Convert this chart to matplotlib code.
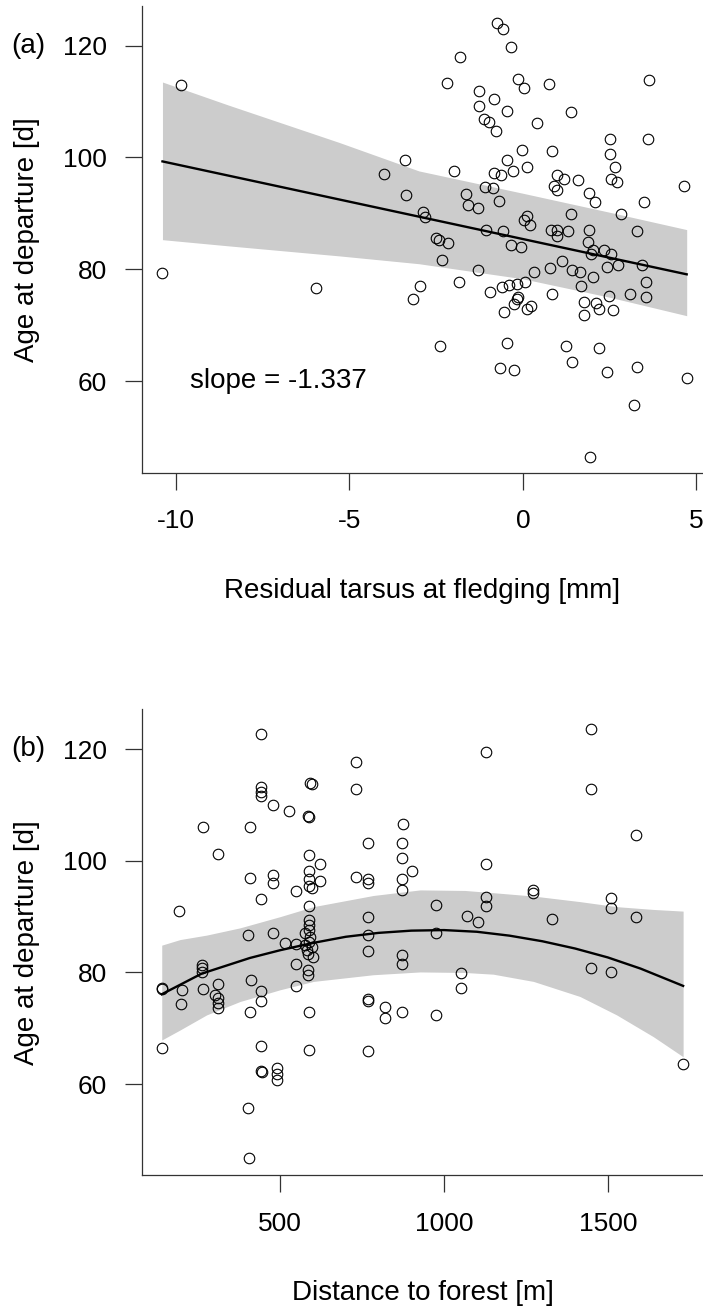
import numpy as np
import matplotlib
matplotlib.use("Agg")
import matplotlib.pyplot as plt

plt.rcParams['font.family'] = ['Liberation Sans', 'DejaVu Sans']
plt.rcParams['axes.unicode_minus'] = False

# panel (a): residual tarsus vs age at departure
tarsus = [-0.75, -0.57, -0.34, -1.80, -2.18, -0.14, 0.03, 0.76, 3.64, -1.28,
          -0.84, -1.28, -0.45, 1.38, -1.12, -0.97, 0.41, -0.77, 2.50, 3.60,
          -0.04, 0.83, 2.50, -3.41, -0.47, 2.65, 0.12, -0.28, -1.99, -0.83,
          -0.64, 0.99, 1.19, 1.59, 2.53, 2.71, 4.63, 0.89, 0.99, -1.09,
          -0.86, -3.37, -1.63, 1.90, 2.07, 3.50, -0.68, -1.58, -1.29, -2.89,
          -2.82, 1.39, 2.83, 0.11, 0.03, 0.20, -1.07, -0.58, 0.80, 0.99,
          1.31, 1.90, 3.29, 0.99, -2.52, -2.42, -2.17, 1.87, -0.34, -0.05,
          2.01, 2.33, 2.53, 1.95, -2.33, 1.14, 2.75, 3.44, 2.42, -1.29,
          0.78, 0.32, 1.42, 1.64, 2.01, 3.54, -1.85, -2.97, 1.66, -0.94,
          -0.60, -0.39, -0.18, 0.06, 3.08, 3.54, 0.83, 2.49, -3.16, -0.14,
          -0.16, -0.25, -0.55, 0.12, 0.23, 1.77, 1.77, 2.12, 2.20, 2.60,
          -2.39, -0.45, -0.66, -0.25, 1.23, 1.42, 2.19, 2.43, 3.29, 4.72,
          3.21, 1.93, -9.86, -4.00, -10.39, -5.97]
age_a = [124.1, 122.9, 119.8, 117.9, 113.4, 114.0, 112.5, 113.1, 113.9, 111.9,
         110.4, 109.2, 108.3, 108.1, 106.9, 106.3, 106.2, 104.7, 103.3, 103.3,
         101.4, 101.2, 100.6, 99.5, 99.5, 98.3, 98.3, 97.6, 97.5, 97.3,
         96.9, 96.9, 96.1, 96.0, 96.1, 95.6, 94.9, 94.9, 94.1, 94.7,
         94.5, 93.3, 93.4, 93.6, 92.1, 92.1, 92.3, 91.5, 90.9, 90.3,
         89.4, 89.9, 89.9, 89.6, 88.9, 88.0, 87.1, 86.8, 87.1, 87.1,
         86.9, 87.1, 86.8, 85.9, 85.6, 85.2, 84.7, 84.8, 84.3, 84.0,
         83.5, 83.5, 82.8, 82.8, 81.6, 81.4, 80.8, 80.8, 80.5, 79.9,
         80.2, 79.5, 79.8, 79.6, 78.7, 77.8, 77.7, 77.1, 77.1, 76.0,
         76.8, 77.2, 77.4, 77.7, 75.6, 75.1, 75.5, 75.3, 74.6, 75.0,
         74.7, 73.8, 72.3, 72.9, 73.5, 74.2, 71.9, 74.0, 72.9, 72.8,
         66.3, 66.8, 62.3, 62.0, 66.2, 63.5, 65.9, 61.6, 62.6, 60.5,
         55.7, 46.5, 113.0, 97.1, 79.3, 76.6]

fit_a_x = [-10.39, 4.72]
fit_a_y = [99.3, 79.1]
band_a_x = [-10.39, -8.5, -5.3, -3.0, 0.0, 2.5, 4.72]
band_a_hi = [113.5, 109.4, 102.7, 97.6, 93.6, 90.2, 87.1]
band_a_lo = [85.3, 84.2, 82.4, 81.0, 78.3, 75.0, 71.7]

# panel (b): distance to forest vs age at departure
dist = [441, 730, 730, 441, 441, 441, 590, 597, 479, 526,
        586, 588, 265, 408, 876, 310, 769, 873, 873, 589,
        621, 902, 408, 479, 479, 588, 588, 621, 730, 769,
        769, 873, 873, 548, 588, 598, 441, 191, 588, 769,
        1449, 1128, 1449, 1587, 1128, 1128, 1128, 1271, 1271, 975,
        1509, 1509, 1069, 1105, 1330, 1587,
        769, 769, 400, 479, 514, 548,
        588, 588, 588, 575, 591, 588, 575, 596, 580, 585, 601,
        548, 584, 586, 260, 260, 260, 138, 140, 199, 265,
        311, 301, 311, 311, 311, 197, 410, 441, 441, 547,
        408, 589, 769, 769, 873, 873, 820, 820, 873, 138,
        441, 589, 769, 441, 443, 490, 490, 490, 400, 404,
        975, 1052, 1052, 975, 1449, 1509, 1730]
age_b = [122.7, 117.7, 112.9, 113.2, 112.4, 111.6, 113.9, 113.7, 110.1, 109.0,
         108.0, 107.9, 106.0, 106.1, 106.6, 101.3, 103.2, 103.2, 100.5, 101.1,
         99.4, 98.2, 96.9, 97.4, 96.0, 98.1, 96.8, 96.4, 97.1, 96.7,
         96.0, 96.7, 94.7, 94.6, 95.5, 95.1, 93.2, 91.0, 91.9, 89.9,
         123.6, 119.5, 112.9, 104.6, 99.4, 93.5, 91.9, 94.7, 94.2, 92.1,
         93.3, 91.5, 90.1, 89.1, 89.5, 89.9,
         86.8, 83.9, 86.7, 87.0, 85.2, 85.1,
         89.4, 88.5, 87.6, 87.0, 86.4, 85.5, 84.9, 84.6, 84.0, 83.4, 82.8,
         81.6, 80.4, 79.6, 81.3, 80.8, 80.1, 77.3, 77.0, 76.9, 77.0,
         77.9, 76.0, 75.4, 74.5, 73.6, 74.3, 78.7, 76.7, 74.9, 77.6,
         72.9, 72.9, 75.2, 74.9, 83.1, 81.5, 73.9, 71.9, 72.9, 66.5,
         66.9, 66.2, 66.0, 62.3, 62.1, 62.8, 61.8, 60.7, 55.8, 46.8,
         87.0, 79.9, 77.3, 72.3, 80.8, 80.0, 63.6]

fit_b_x = [138, 260, 407, 500, 600, 700, 800, 900, 1000, 1100, 1200, 1300, 1400, 1500, 1600, 1730]
fit_b_y = [76.1, 79.8, 82.6, 84.0, 85.3, 86.4, 87.1, 87.5, 87.6, 87.3, 86.6, 85.6, 84.3, 82.7, 80.7, 77.6]
band_b_x = [138, 194, 275, 377, 499, 601, 784, 927, 1064, 1150, 1273, 1415, 1527, 1639, 1730]
band_b_hi = [84.9, 85.9, 86.7, 88.0, 90.0, 91.8, 93.8, 94.8, 94.7, 94.3, 93.7, 92.7, 91.8, 91.3, 91.0]
band_b_lo = [67.9, 69.7, 72.4, 74.8, 76.9, 78.4, 79.6, 80.1, 80.0, 79.7, 78.4, 75.7, 72.4, 68.5, 64.9]

W, H = 703, 1309
fig = plt.figure(figsize=(W / 100, H / 100), dpi=100)


def style_axes(ax):
    for s in ['top', 'right']:
        ax.spines[s].set_visible(False)
    for s in ['left', 'bottom']:
        ax.spines[s].set_color('#333333')
        ax.spines[s].set_linewidth(0.9)
    ax.tick_params(axis='both', length=12, width=0.9, color='#333333', labelsize=19)
    ax.tick_params(axis='y', pad=13)
    ax.tick_params(axis='x', pad=14)
    ax.set_yticks([60, 80, 100, 120])


def panel(ax, x, y, bx, blo, bhi, fx, fy, xlabel):
    ax.fill_between(bx, blo, bhi, color='#cccccc', lw=0, zorder=1)
    ax.plot(x, y, 'o', mfc='none', mec='black', ms=7.6, mew=0.8, zorder=3)
    ax.plot(fx, fy, color='black', lw=1.7, zorder=4)
    style_axes(ax)
    ax.set_xlabel(xlabel, fontsize=20)
    ax.xaxis.set_label_coords(0.5, -0.2524)
    ax.xaxis.label.set_va('center')
    ax.set_ylabel('Age at departure [d]', fontsize=20)
    ax.yaxis.set_label_coords(-0.205, 0.5)
    ax.yaxis.label.set_va('center')
    ax.yaxis.label.set_ha('center')


ax1 = fig.add_axes([142 / W, 1 - 473 / H, 561 / W, (473 - 5.5) / H])
panel(ax1, tarsus, age_a, band_a_x, band_a_lo, band_a_hi, fit_a_x, fit_a_y,
      'Residual tarsus at fledging [mm]')
ax1.set_xlim(-10.98, 5.19)
ax1.set_ylim(43.56, 127.19)
ax1.set_xticks([-10, -5, 0, 5])
ax1.text(-7.05, 60, 'slope = -1.337', fontsize=20, ha='center', va='center')

ax2 = fig.add_axes([142 / W, 1 - 1175.4 / H, 561 / W, (1175.4 - 709.1) / H])
panel(ax2, dist, age_b, band_b_x, band_b_lo, band_b_hi, fit_b_x, fit_b_y,
      'Distance to forest [m]')
ax2.set_xlim(77.7, 1790.7)
ax2.set_ylim(43.64, 127.2)
ax2.set_xticks([500, 1000, 1500])

fig.text(28 / W, 1 - 46 / H, '(a)', fontsize=20, ha='center', va='center')
fig.text(28 / W, 1 - 749 / H, '(b)', fontsize=20, ha='center', va='center')

fig.savefig('out.png', dpi=100)
